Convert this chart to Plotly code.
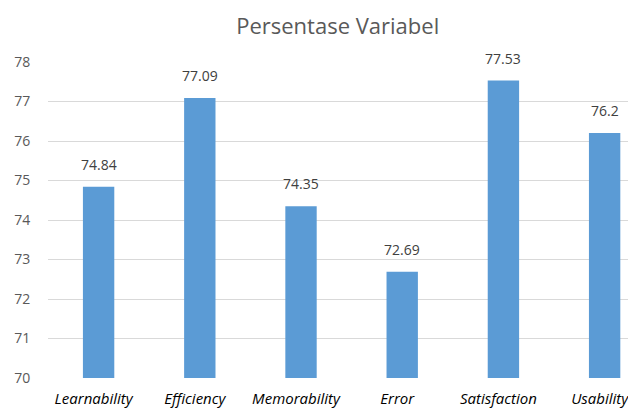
import plotly.graph_objects as go

categories = ["Learnability", "Efficiency", "Memorability", "Error", "Satisfaction", "Usability"]
values = [74.84, 77.09, 74.35, 72.69, 77.53, 76.2]
value_labels = ["74.84", "77.09", "74.35", "72.69", "77.53", "76.2"]
y_ticks = [70, 71, 72, 73, 74, 75, 76, 77, 78]

fig = go.Figure()
fig.add_trace(go.Bar(
    x=categories, y=values,
    marker=dict(color="#5B9BD5", line=dict(width=0)),
    width=0.31,
))

for c, v, t in zip(categories, values, value_labels):
    fig.add_annotation(x=c, y=v, text=t, showarrow=False, yanchor="bottom",
                       yshift=11, font=dict(family="Open Sans", size=14, color="#404040"))

# page body adds an 8px offset; figure sized to the visible area
fig.update_layout(
    width=628, height=401,
    margin=dict(l=40, r=0, t=54, b=31),
    paper_bgcolor="white", plot_bgcolor="white",
    title=dict(text="Persentase Variabel", x=0.525, xanchor="center", y=0.955, yanchor="middle",
               font=dict(family="Open Sans", size=22, color="#595959")),
    showlegend=False,
    xaxis=dict(range=[-0.5, 5.31], showgrid=False, showline=False, zeroline=False,
               ticks="outside", ticklen=7, tickcolor="rgba(0,0,0,0)", ticklabelshift=-5,
               tickfont=dict(family="Open Sans", size=15, color="#000000", style="italic")),
    yaxis=dict(range=[70, 78], tickvals=y_ticks, showgrid=True, gridcolor="#D9D9D9", gridwidth=1,
               zeroline=False, showline=False,
               ticks="outside", ticklen=14, tickcolor="rgba(0,0,0,0)",
               tickfont=dict(family="Open Sans", size=14, color="#595959")),
)

fig.write_html("out.html")
